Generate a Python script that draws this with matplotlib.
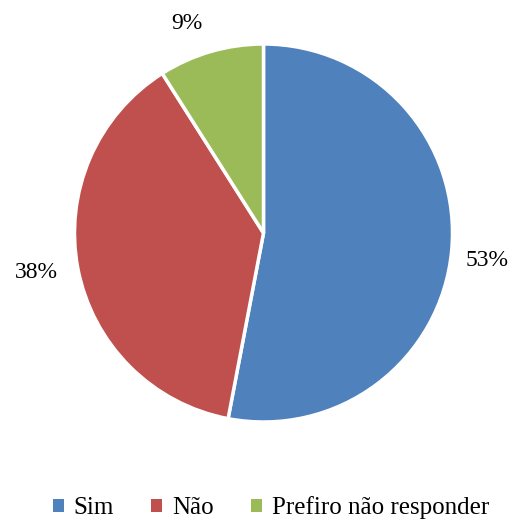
import numpy as np
import matplotlib.pyplot as plt

labels = ["Sim", "Não", "Prefiro não responder"]
values = [53, 38, 9]
colors = ["#4F81BD", "#C0504D", "#9BBB59"]

# where the percent labels sit (radius units, angle nudge in degrees)
label_r = [1.19, 1.22, 1.18]
label_nudge = [-1.5, -1.0, 4.0]

plt.rcParams['font.family'] = ['Liberation Serif', 'DejaVu Serif']

fig = plt.figure(figsize=(5.21, 5.24), dpi=100)
W, H = 521, 524
cx, cy, r = 263.5, 233, 189
ax = fig.add_axes([(cx - r) / W, (H - cy - r) / H, 2 * r / W, 2 * r / H])

wedges, texts, autotexts = ax.pie(
    values, colors=colors, startangle=90, counterclock=False,
    autopct='%1.0f%%', pctdistance=1.2,
    wedgeprops=dict(edgecolor='white', linewidth=2.5),
    textprops=dict(fontsize=17, color='black'))

# nudge percent labels like the Excel best-fit placement
for w, t, d, n in zip(wedges, autotexts, label_r, label_nudge):
    ang = np.deg2rad((w.theta1 + w.theta2) / 2 + n)
    t.set_position((d * np.cos(ang), d * np.sin(ang)))

ax.set_xlim(-1, 1)
ax.set_ylim(-1, 1)
ax.set_aspect('equal')

leg = fig.legend(wedges, labels, loc='center', bbox_to_anchor=(0.52, (H - 508) / H),
                 ncol=3, frameon=False, fontsize=18, handlelength=0.42, handleheight=0.42,
                 handletextpad=0.4, columnspacing=1.5)
for h in leg.legend_handles:
    h.set_edgecolor('none')

fig.savefig('out.png', dpi=100)
